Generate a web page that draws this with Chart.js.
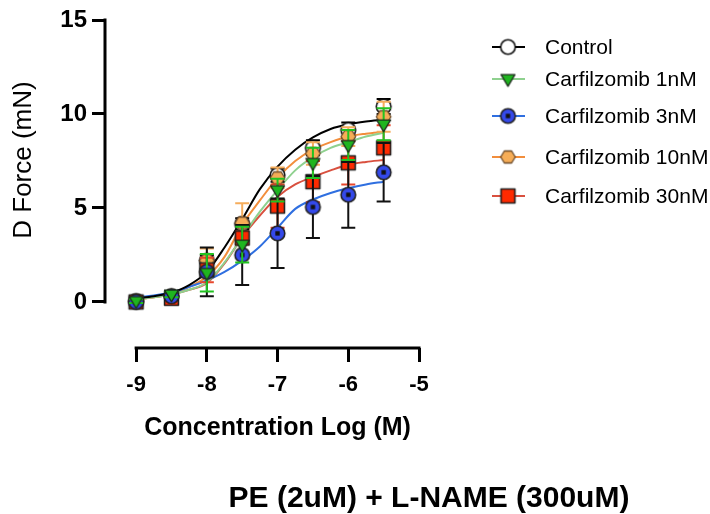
<!DOCTYPE html>
<html>
<head>
<meta charset="utf-8">
<script src="https://cdn.jsdelivr.net/npm/chart.js@4.4.0/dist/chart.umd.min.js"></script>
<style>
  html, body { margin: 0; padding: 0; background: #fff; }
  #wrap { width: 710px; height: 514px; position: relative; }
</style>
</head>
<body>
<div id="wrap"><canvas id="doseChart"></canvas></div>
<script>
// ─── Data ─────────────────────────────────────────────────────────────────────
const seriesNames = ['Control', 'Carfilzomib 1nM', 'Carfilzomib 3nM', 'Carfilzomib 10nM', 'Carfilzomib 30nM'];
const doses = [-9, -8.5, -8, -7.5, -7, -6.5, -6, -5.5];
const xTicks = [-9, -8, -7, -6, -5];
const yTicks = [0, 5, 10, 15];

// mean D force (mN)
const controlMean = [0.05, 0.3, 2.2, 4.15, 6.75, 8.2, 9.15, 10.4];
const carf1Mean   = [0.05, 0.4, 1.55, 3.05, 5.95, 7.4, 8.35, 9.45];
const carf3Mean   = [0.0, 0.3, 1.6, 2.5, 3.65, 5.05, 5.7, 6.9];
const carf10Mean  = [0.05, 0.3, 2.2, 4.2, 6.6, 7.9, 8.8, 9.85];
const carf30Mean  = [0.0, 0.2, 1.7, 3.4, 5.1, 6.4, 7.4, 8.2];

// error (mN)
const controlErr = [0.1, 0.15, 0.3, 0.3, 0.35, 0.4, 0.4, 0.4];
const carf1Err   = [0.1, 0.15, 1.0, 0.95, 0.6, 0.8, 0.8, 0.85];
const carf3Err   = [0.1, 0.2, 1.3, 1.6, 1.85, 1.65, 1.75, 1.55];
const carf10Err  = [0.1, 0.15, 0.65, 1.05, 0.55, 0.6, 0.5, 0.8];
const carf30Err  = [0.1, 0.35, 0.65, 0.35, 1.15, 1.1, 1.15, 1.2];

// fitted curves
const fitX        = [-9, -8.75, -8.5, -8.25, -8, -7.75, -7.5, -7.25, -7, -6.75, -6.5, -6.25, -6, -5.75, -5.5];
const controlFit  = [0.2, 0.3, 0.5, 0.9, 1.6, 2.9, 4.4, 6.0, 7.2, 8.1, 8.75, 9.2, 9.45, 9.6, 9.7];
const carf1Fit    = [0.15, 0.25, 0.4, 0.65, 1.05, 2.1, 3.45, 4.8, 5.95, 7.0, 7.7, 8.2, 8.5, 8.8, 9.0];
const carf3Fit    = [0.25, 0.35, 0.5, 0.8, 1.15, 1.6, 2.2, 2.95, 3.95, 4.95, 5.45, 5.8, 6.05, 6.25, 6.4];
const carf10Fit   = [0.15, 0.25, 0.45, 0.8, 1.35, 2.4, 4.1, 5.4, 6.6, 7.5, 8.1, 8.5, 8.8, 8.95, 9.05];
const carf30Fit   = [0.15, 0.25, 0.4, 0.65, 1.0, 2.05, 3.45, 4.6, 5.6, 6.25, 6.65, 7.0, 7.3, 7.45, 7.55];

const means = [controlMean, carf1Mean, carf3Mean, carf10Mean, carf30Mean];
const errs  = [controlErr, carf1Err, carf3Err, carf10Err, carf30Err];
const fits  = [controlFit, carf1Fit, carf3Fit, carf10Fit, carf30Fit];

// ─── Styles ───────────────────────────────────────────────────────────────────
const FONT = "'Liberation Sans', Arial, sans-serif";
const STYLE = [
  { line: '#000000', err: '#000000', marker: 'openCircle',   order: 4 },
  { line: '#8fd18f', err: '#22c322', marker: 'triangleDown', order: 0 },
  { line: '#2f6fe0', err: '#111111', marker: 'blueDot',      order: 1 },
  { line: '#f28e3c', err: '#f5ad5c', marker: 'hexagon',      order: 3 },
  { line: '#d9503f', err: '#e8472c', marker: 'square',       order: 2 },
];

function makeMarker(kind, r) {
  const s = Math.ceil(r * 2 + 4);
  const c = document.createElement('canvas');
  c.width = s; c.height = s;
  const g = c.getContext('2d');
  const m = s / 2;
  g.lineJoin = 'round';
  g.beginPath();
  if (kind === 'openCircle') {
    g.arc(m, m, r, 0, Math.PI * 2);
    g.fillStyle = '#ffffff'; g.fill();
    g.lineWidth = 1.6; g.strokeStyle = '#111'; g.stroke();
  } else if (kind === 'triangleDown') {
    const h = r * 1.6, w = r * 1.9;
    g.moveTo(m - w / 2, m - r * 0.6);
    g.lineTo(m + w / 2, m - r * 0.6);
    g.lineTo(m, m - r * 0.6 + h);
    g.closePath();
    g.fillStyle = '#1fb51f'; g.fill();
    g.lineWidth = 1.3; g.strokeStyle = '#1d2b1d'; g.stroke();
  } else if (kind === 'blueDot') {
    g.arc(m, m, r, 0, Math.PI * 2);
    g.fillStyle = '#3449ea'; g.fill();
    g.lineWidth = 1.6; g.strokeStyle = '#222'; g.stroke();
    const q = r * 0.6;
    g.fillStyle = '#111';
    g.fillRect(m - q / 2, m - q / 2, q, q);
  } else if (kind === 'hexagon') {
    for (let i = 0; i < 6; i++) {
      const a = Math.PI / 3 * i;
      const px = m + Math.cos(a) * r, py = m + Math.sin(a) * r * 0.95;
      i ? g.lineTo(px, py) : g.moveTo(px, py);
    }
    g.closePath();
    g.fillStyle = '#f6ad57'; g.fill();
    g.lineWidth = 1.3; g.strokeStyle = '#6b4b2b'; g.stroke();
  } else if (kind === 'square') {
    const q = r * 0.95;
    g.rect(m - q, m - q, q * 2, q * 2);
    g.fillStyle = '#ff2a00'; g.fill();
    g.lineWidth = 1.6; g.strokeStyle = '#222'; g.stroke();
  }
  return c;
}

const markers = STYLE.map(st => makeMarker(st.marker, 7.3));

// ─── Datasets ─────────────────────────────────────────────────────────────────
const datasets = [];
seriesNames.forEach((name, k) => {
  datasets.push({
    label: name,
    data: doses.map((x, i) => ({ x, y: means[k][i] })),
    errors: errs[k],
    errorColor: STYLE[k].err,
    showLine: false,
    pointStyle: markers[k],
    pointRadius: 7,
    order: STYLE[k].order,
  });
});
seriesNames.forEach((name, k) => {
  datasets.push({
    label: name + ' fit',
    data: fitX.map((x, i) => ({ x, y: fits[k][i] })),
    showLine: true,
    borderColor: STYLE[k].line,
    borderWidth: 2,
    pointRadius: 0,
    cubicInterpolationMode: 'monotone',
    order: k === 0 ? 10 : 11 + k,
  });
});

// ─── Plugins ──────────────────────────────────────────────────────────────────
const errorBars = {
  id: 'errorBars',
  beforeDatasetDraw(chart, args) {
    const ds = chart.data.datasets[args.index];
    if (!ds.errors) return;
    const { ctx, scales: { x, y } } = chart;
    ctx.save();
    ctx.strokeStyle = ds.errorColor;
    ctx.lineWidth = 2;
    ds.data.forEach((p, i) => {
      const e = ds.errors[i];
      const px = x.getPixelForValue(p.x);
      const hi = y.getPixelForValue(p.y + e), lo = y.getPixelForValue(p.y - e);
      ctx.beginPath();
      ctx.moveTo(px, hi); ctx.lineTo(px, lo);
      ctx.moveTo(px - 7, hi); ctx.lineTo(px + 7, hi);
      ctx.moveTo(px - 7, lo); ctx.lineTo(px + 7, lo);
      ctx.stroke();
    });
    ctx.restore();
  }
};

const decor = {
  id: 'decor',
  afterDraw(chart) {
    const { ctx, chartArea, scales: { x, y } } = chart;
    ctx.save();
    // offset axis lines
    ctx.strokeStyle = '#000';
    ctx.lineWidth = 3;
    ctx.beginPath();
    ctx.moveTo(chartArea.left, y.getPixelForValue(yTicks[yTicks.length - 1]) - 1.5);
    ctx.lineTo(chartArea.left, y.getPixelForValue(yTicks[0]) + 1.5);
    ctx.moveTo(x.getPixelForValue(xTicks[0]) - 1.5, chartArea.bottom);
    ctx.lineTo(x.getPixelForValue(xTicks[xTicks.length - 1]) + 1.5, chartArea.bottom);
    ctx.stroke();

    // titles
    ctx.fillStyle = '#000';
    ctx.textAlign = 'center';
    ctx.textBaseline = 'alphabetic';
    ctx.font = `bold 25px ${FONT}`;
    const xMid = (x.getPixelForValue(xTicks[0]) + x.getPixelForValue(xTicks[xTicks.length - 1])) / 2;
    ctx.fillText('Concentration Log (M)', xMid, 435);
    ctx.font = `bold 30px ${FONT}`;
    ctx.fillText('PE (2uM) + L-NAME (300uM)', 429, 507);

    ctx.save();
    ctx.translate(24, 160);
    ctx.rotate(-Math.PI / 2);
    ctx.font = `26px ${FONT}`;
    ctx.textBaseline = 'middle';
    ctx.fillText('D Force (mN)', 0, 0);
    ctx.restore();

    // legend
    const rows = [47, 79, 116, 157, 196];
    ctx.textAlign = 'left';
    ctx.textBaseline = 'middle';
    ctx.font = `21px ${FONT}`;
    seriesNames.forEach((name, k) => {
      const ly = rows[k];
      ctx.strokeStyle = STYLE[k].line;
      ctx.lineWidth = 2;
      ctx.beginPath();
      ctx.moveTo(492, ly); ctx.lineTo(525, ly);
      ctx.stroke();
      const mk = markers[k];
      ctx.drawImage(mk, 508 - mk.width / 2, ly - mk.height / 2);
      ctx.fillStyle = '#000';
      ctx.fillText(name, 545, ly + 1);
    });
    ctx.restore();
  }
};

// ─── Chart ────────────────────────────────────────────────────────────────────
new Chart(document.getElementById('doseChart'), {
  type: 'scatter',
  data: { datasets },
  options: {
    responsive: true, maintainAspectRatio: false,
    animation: false,
    layout: { padding: { top: 20, right: 291, bottom: 0, left: 0 } },
    plugins: { legend: { display: false }, tooltip: { enabled: false } },
    scales: {
      x: {
        type: 'linear', min: -9.44, max: -5,
        afterBuildTicks: (s) => { s.ticks = xTicks.map(v => ({ value: v })); },
        afterFit: (s) => { s.height = 166; },
        grid: { drawOnChartArea: false, drawTicks: true, tickLength: 14, lineWidth: 3, color: '#000' },
        border: { display: false },
        ticks: { color: '#000', padding: 10, font: { family: FONT, size: 22, weight: 'bold' }, maxRotation: 0 }
      },
      y: {
        type: 'linear', min: -2.45, max: 15,
        afterBuildTicks: (s) => { s.ticks = yTicks.map(v => ({ value: v })); },
        afterFit: (s) => { s.width = 105; },
        grid: { drawOnChartArea: false, drawTicks: true, tickLength: 13, lineWidth: 3, color: '#000' },
        border: { display: false },
        ticks: { color: '#000', padding: 5, font: { family: FONT, size: 24, weight: 'bold' } }
      }
    }
  },
  plugins: [errorBars, decor]
});
</script>
</body>
</html>
